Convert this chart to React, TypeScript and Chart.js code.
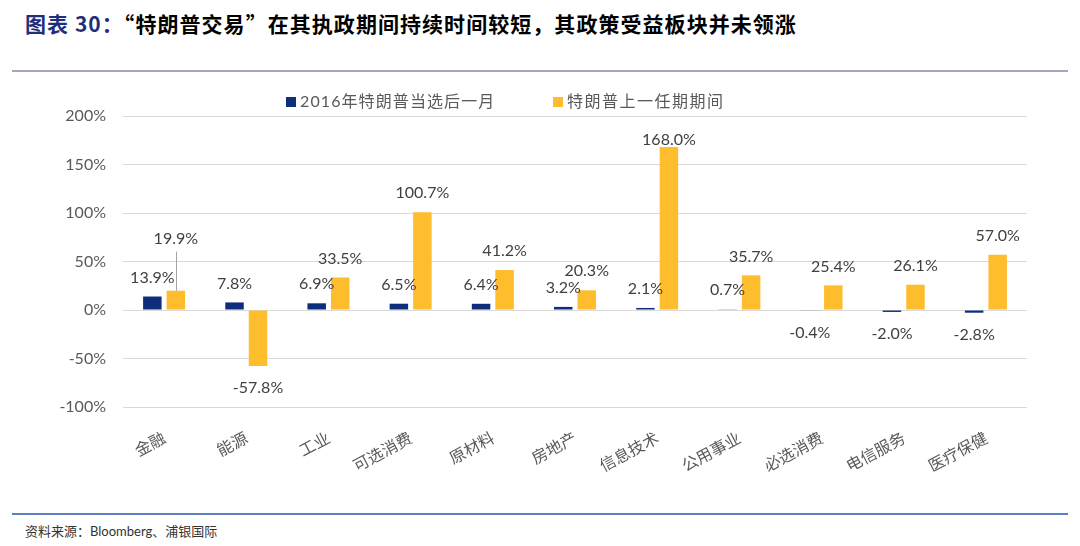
import React, { useEffect, useRef } from 'react';
import { Chart, registerables } from 'chart.js';

Chart.register(...registerables);

const categories = ['金融', '能源', '工业', '可选消费', '原材料', '房地产', '信息技术', '公用事业', '必选消费', '电信服务', '医疗保健'];
const election2016 = [13.9, 7.8, 6.9, 6.5, 6.4, 3.2, 2.1, 0.7, -0.4, -2.0, -2.8];
const firstTerm = [19.9, -57.8, 33.5, 100.7, 41.2, 20.3, 168.0, 35.7, 25.4, 26.1, 57.0];
const seriesNames = ['2016年特朗普当选后一月', '特朗普上一任期期间'];
const seriesColors = ['#0e2e7b', '#fdbd2d'];
const yMin = -100;
const yMax = 200;
const yStep = 50;
const titlePrefix = '图表 30：';
const titleText = '“特朗普交易”在其执政期间持续时间较短，其政策受益板块并未领涨';
const sourceText = '资料来源：Bloomberg、浦银国际';

const LATIN = 'Lato, "Noto Sans CJK SC", sans-serif';

const labelPlugin = {
  id: 'valueLabels',
  afterDatasetsDraw(chart: any) {
    const ctx = chart.ctx;
    const area = chart.chartArea;
    const m0 = chart.getDatasetMeta(0);
    const m1 = chart.getDatasetMeta(1);
    const pos = (el: any, v: number) => (v >= 0 ? Math.max(el.y - 19, area.top + 24) : el.y + 22);
    ctx.save();
    ctx.font = '16px ' + LATIN;
    ctx.fillStyle = '#404040';
    ctx.textAlign = 'center';
    ctx.textBaseline = 'middle';
    m0.data.forEach((el: any, i: number) => {
      const v = election2016[i];
      ctx.fillText(v.toFixed(1) + '%', el.x, pos(el, v));
    });
    m1.data.forEach((el: any, i: number) => {
      const v = firstTerm[i];
      let y = pos(el, v);
      const v0 = election2016[i];
      if (v >= 0 && v0 >= 0) {
        const y0 = pos(m0.data[i], v0);
        if (Math.abs(y - y0) < 12) {
          const ly = y - 33;
          ctx.strokeStyle = '#a6a6a6';
          ctx.lineWidth = 1;
          ctx.beginPath();
          ctx.moveTo(Math.round(el.x) + 0.5, ly + 13);
          ctx.lineTo(Math.round(el.x) + 0.5, el.y);
          ctx.stroke();
          y = ly;
        }
      }
      ctx.fillText(v.toFixed(1) + '%', el.x, y);
    });
    ctx.restore();
  },
};

function ChartCanvas() {
  const ref = useRef<HTMLCanvasElement | null>(null);
  useEffect(() => {
    if (!ref.current) return;
    const chart = new Chart(ref.current, {
      type: 'bar',
      data: {
        labels: categories,
        datasets: [
          {
            label: seriesNames[0],
            data: election2016,
            backgroundColor: seriesColors[0],
            categoryPercentage: 0.572,
            barPercentage: 0.787,
          },
          {
            label: seriesNames[1],
            data: firstTerm,
            backgroundColor: seriesColors[1],
            categoryPercentage: 0.572,
            barPercentage: 0.787,
          },
        ],
      },
      options: {
        responsive: false,
        animation: false,
        devicePixelRatio: 1,
        layout: { padding: { top: 36, right: 53, left: 0, bottom: 0 } },
        plugins: {
          legend: { display: false },
          tooltip: { enabled: false },
        },
        scales: {
          x: {
            grid: { display: false },
            border: { display: false },
            ticks: {
              minRotation: 28,
              maxRotation: 28,
              padding: 13,
              color: '#595959',
              font: { family: '"Noto Sans CJK SC", sans-serif', size: 16 },
            },
            afterFit: (s: any) => {
              s.height = 73;
            },
          },
          y: {
            min: yMin,
            max: yMax,
            grid: { color: '#d9d9d9', lineWidth: 1, drawTicks: false },
            border: { display: false },
            ticks: {
              stepSize: yStep,
              padding: 17,
              color: '#595959',
              font: { family: LATIN, size: 16 },
              callback: (v: any) => v + '%',
            },
            afterFit: (s: any) => {
              s.width = 123;
            },
          },
        },
      },
      plugins: [labelPlugin],
    });
    return () => chart.destroy();
  }, []);
  return (
    <canvas
      ref={ref}
      width={1080}
      height={400}
      style={{ position: 'absolute', left: 0, top: 80, width: 1080, height: 400 }}
    />
  );
}

export default function App() {
  const legendText: React.CSSProperties = {
    position: 'absolute',
    top: 91,
    fontFamily: LATIN,
    fontSize: 16,
    lineHeight: '20px',
    color: '#595959',
    letterSpacing: 1.1,
    whiteSpace: 'nowrap',
  };
  return (
    <div
      style={{
        position: 'fixed',
        left: 0,
        top: 0,
        width: 1080,
        height: 546,
        background: '#ffffff',
        overflow: 'hidden',
      }}
    >
      <div
        style={{
          position: 'absolute',
          left: 25,
          top: 11,
          fontFamily: '"Noto Sans CJK SC", sans-serif',
          fontWeight: 700,
          fontSize: 21,
          lineHeight: '24px',
          letterSpacing: 1.05,
          whiteSpace: 'nowrap',
          color: '#000',
        }}
      >
        <span style={{ color: '#1f2f7e' }}>{titlePrefix}</span>
        <span>{titleText}</span>
      </div>
      <div style={{ position: 'absolute', left: 12, top: 70, width: 1056, height: 2, background: '#a8a4c8' }} />
      <ChartCanvas />
      <div style={{ position: 'absolute', left: 286, top: 97, width: 10, height: 10, background: seriesColors[0] }} />
      <div style={{ ...legendText, left: 300 }}>{seriesNames[0]}</div>
      <div style={{ position: 'absolute', left: 553, top: 97, width: 10, height: 10, background: seriesColors[1] }} />
      <div style={{ ...legendText, left: 567, letterSpacing: 1.5 }}>{seriesNames[1]}</div>
      <div style={{ position: 'absolute', left: 12, top: 513, width: 1056, height: 2, background: '#5d7fc4' }} />
      <div
        style={{
          position: 'absolute',
          left: 25,
          top: 523,
          fontFamily: LATIN,
          fontSize: 13,
          lineHeight: '17px',
          color: '#333333',
          whiteSpace: 'nowrap',
        }}
      >
        {sourceText}
      </div>
    </div>
  );
}
